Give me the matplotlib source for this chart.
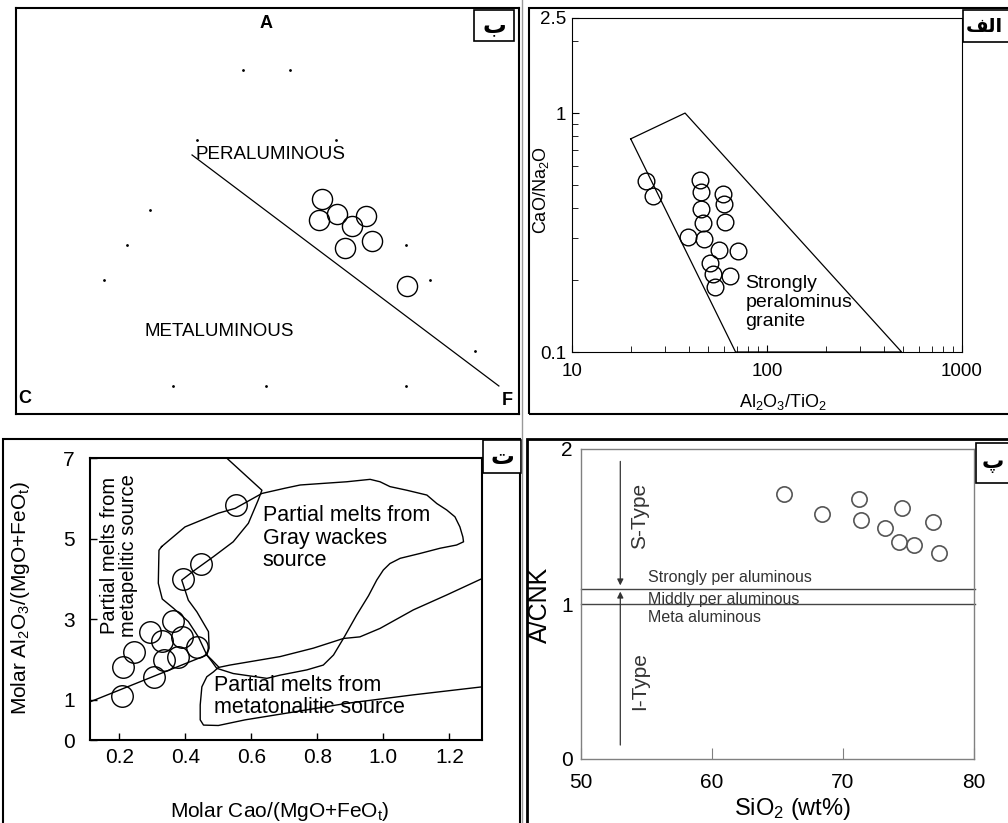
import matplotlib
matplotlib.use('agg')
import matplotlib.pyplot as plt
from matplotlib.patches import Rectangle
from matplotlib.lines import Line2D
from matplotlib.ticker import FixedLocator, FixedFormatter, NullFormatter

plt.rcParams['font.family'] = ['Liberation Sans', 'DejaVu Sans']
plt.rcParams['mathtext.fontset'] = 'custom'
plt.rcParams['mathtext.rm'] = 'Liberation Sans'
plt.rcParams['mathtext.it'] = 'Liberation Sans:italic'

W, H = 1008, 823

# --- panel ب : A-C-F diagram (diagram units 0-100) ---
acf_x = [60.8, 60.2, 63.8, 66.8, 69.6, 70.8, 65.4, 77.7]
acf_y = [53.0, 47.8, 49.3, 46.3, 48.8, 42.6, 40.9, 31.5]
acf_grid_x = [45.1, 54.5, 36.0, 63.6, 26.6, 22.1, 17.5, 77.5, 82.3, 91.3, 31.2, 49.7, 77.5]
acf_grid_y = [84.7, 84.7, 67.5, 67.5, 50.2, 41.6, 33.0, 41.6, 33.0, 15.5, 6.9, 6.9, 6.9]
acf_line_x = [35.0, 96.0]
acf_line_y = [63.8, 6.9]

# --- panel الف : CaO/Na2O vs Al2O3/TiO2 ---
spg_x = [24.0, 25.9, 45.5, 46.0, 46.0, 47.0, 39.4, 47.5, 59.3, 59.9, 61.0,
         56.5, 70.8, 50.8, 52.8, 64.9, 54.3]
spg_y = [0.519, 0.45, 0.527, 0.469, 0.396, 0.346, 0.303, 0.298, 0.46, 0.415,
         0.35, 0.267, 0.264, 0.235, 0.212, 0.208, 0.187]
spg_field_x = [20, 38, 490, 69, 20]
spg_field_y = [0.78, 1.0, 0.1, 0.1, 0.78]

# --- panel ت : molar Al2O3/(MgO+FeOt) vs CaO/(MgO+FeOt) ---
src_x = [0.554, 0.448, 0.392, 0.364, 0.293, 0.389, 0.328, 0.435, 0.245,
         0.377, 0.336, 0.212, 0.306, 0.207]
src_y = [5.83, 4.37, 4.00, 2.95, 2.69, 2.56, 2.46, 2.32, 2.19, 2.07, 1.99,
         1.80, 1.56, 1.10]
pelite_x = [0.525, 0.632, 0.621, 0.591, 0.545, 0.485, 0.429, 0.389, 0.409,
            0.435, 0.455, 0.470, 0.472, 0.465, 0.480, 0.500]
pelite_y = [7.0, 6.20, 5.96, 5.38, 4.92, 4.55, 4.22, 3.97, 3.47, 3.18, 2.90,
            2.69, 2.28, 2.11, 1.99, 1.82]
lower_x = [0.112, 0.465]
lower_y = [0.95, 2.11]
tonalite_x = [1.30, 1.09, 0.889, 0.702, 0.581, 0.50, 0.455, 0.445, 0.445,
              0.45, 0.465, 0.485, 0.50, 0.535, 0.687, 0.788, 0.879, 0.929,
              0.99, 1.091, 1.192, 1.30]
tonalite_y = [1.32, 1.12, 0.91, 0.66, 0.50, 0.36, 0.37, 0.50, 0.87, 1.32,
              1.57, 1.69, 1.80, 1.86, 2.07, 2.28, 2.52, 2.56, 2.77, 3.23,
              3.60, 4.01]
wacke_x = [0.328, 0.399, 0.50, 0.551, 0.632, 0.702, 0.748, 0.818, 0.889,
           0.96, 0.99, 1.02, 1.071, 1.132, 1.162, 1.192, 1.217, 1.232, 1.241,
           1.243, 1.222, 1.172, 1.111, 1.051, 1.02, 1.0, 0.98, 0.955, 0.919,
           0.879, 0.849, 0.818, 0.768, 0.687, 0.647, 0.545, 0.495, 0.48,
           0.465, 0.44, 0.409, 0.364, 0.33, 0.318, 0.320, 0.328]
wacke_y = [4.80, 5.29, 5.63, 5.75, 6.12, 6.25, 6.33, 6.37, 6.41, 6.47, 6.41,
           6.29, 6.20, 6.08, 5.87, 5.71, 5.54, 5.29, 5.04, 4.92, 4.84, 4.76,
           4.63, 4.51, 4.38, 4.22, 3.97, 3.58, 3.10, 2.52, 2.11, 1.86, 1.74,
           1.61, 1.53, 1.65, 1.78, 1.95, 2.11, 2.55, 2.94, 3.27, 3.50, 3.89,
           4.71, 4.80]

# --- panel پ : A/CNK vs SiO2 ---
sio2 = [65.5, 68.4, 71.2, 71.4, 73.2, 74.5, 74.3, 75.4, 76.9, 77.3]
acnk = [1.71, 1.58, 1.68, 1.54, 1.49, 1.62, 1.40, 1.38, 1.53, 1.33]
acnk_bounds = [1.0, 1.1]


def px_rect(x0, y0, x1, y1):
    return [x0 / W, 1 - y1 / H, (x1 - x0) / W, (y1 - y0) / H]


def frame_box(fig, x0, y0, x1, y1, lw=1.5, color='black'):
    fig.add_artist(Rectangle((x0 / W, 1 - y1 / H), (x1 - x0) / W, (y1 - y0) / H,
                             transform=fig.transFigure, fill=False,
                             lw=lw, edgecolor=color))


def tag(fig, x0, y0, x1, y1, text, tx, ha='center', size=17):
    fig.add_artist(Rectangle((x0 / W, 1 - y1 / H), (x1 - x0) / W, (y1 - y0) / H,
                             transform=fig.transFigure, facecolor='white',
                             lw=1.2, edgecolor='black'))
    fig.text(tx / W, 1 - (y0 + y1) / 2 / H, text, ha=ha, va='center',
             fontsize=size, fontweight='bold', family=['DejaVu Sans'])


fig = plt.figure(figsize=(W / 100, H / 100), dpi=100)

# ---------------- ب ----------------
ax = fig.add_axes(px_rect(16, 8, 519, 414))
ax.set_xlim(0, 100)
ax.set_ylim(0, 100)
ax.set_xticks([])
ax.set_yticks([])
for s in ax.spines.values():
    s.set_linewidth(1.5)
ax.plot(acf_grid_x, acf_grid_y, '.', color='black', ms=2)
ax.plot(acf_line_x, acf_line_y, color='black', lw=0.9)
ax.plot(acf_x, acf_y, 'o', mfc='none', mec='black', ms=14.5, mew=1)
ax.text(49.7, 96.3, 'A', ha='center', va='center', fontsize=13, fontweight='bold')
ax.text(1.8, 3.9, 'C', ha='center', va='center', fontsize=13, fontweight='bold')
ax.text(97.6, 3.4, 'F', ha='center', va='center', fontsize=13, fontweight='bold')
ax.text(35.6, 64.0, 'PERALUMINOUS', ha='left', va='center', fontsize=13.5)
ax.text(25.6, 20.2, 'METALUMINOUS', ha='left', va='center', fontsize=13.5)

# ---------------- الف ----------------
frame_box(fig, 529, 8, 1012, 414)
ax = fig.add_axes(px_rect(572, 18, 962, 352))
ax.set_xscale('log')
ax.set_yscale('log')
ax.set_xlim(10, 1000)
ax.set_ylim(0.1, 2.5)
ax.plot(spg_field_x, spg_field_y, color='black', lw=0.9)
ax.plot(spg_x, spg_y, 'o', mfc='none', mec='black', ms=12, mew=1)
ax.text(77.4, 0.161, 'Strongly\nperalominus\ngranite', ha='left', va='center',
        fontsize=14, linespacing=1.15)
ax.xaxis.set_major_locator(FixedLocator([10, 100, 1000]))
ax.xaxis.set_major_formatter(FixedFormatter(['10', '100', '1000']))
ax.xaxis.set_minor_locator(FixedLocator([20, 30, 40, 50, 60, 70, 80, 90,
                                         200, 300, 400, 500, 600, 700, 800, 900]))
ax.xaxis.set_minor_formatter(NullFormatter())
ax.yaxis.set_major_locator(FixedLocator([0.1, 1, 2.5]))
ax.yaxis.set_major_formatter(FixedFormatter(['0.1', '1', '2.5']))
ax.yaxis.set_minor_locator(FixedLocator([0.2, 0.3, 0.4, 0.5, 0.6, 0.7, 0.8, 0.9, 2]))
ax.yaxis.set_minor_formatter(NullFormatter())
ax.tick_params(which='both', direction='in', labelsize=13.5)
ax.tick_params(which='major', length=5)
ax.tick_params(which='minor', length=4)
ax.tick_params(axis='x', pad=8)
ax.tick_params(axis='y', pad=4)
ax.set_xlabel(r'Al$_{\rm 2}$O$_{\rm 3}$/TiO$_{\rm 2}$', fontsize=13)
ax.set_ylabel(r'CaO/Na$_{\rm 2}$O', fontsize=13)
ax.xaxis.set_label_coords(0.541, -0.12)
ax.yaxis.set_label_coords(-0.055, 0.485)

# ---------------- ت ----------------
frame_box(fig, 3, 439, 520, 830)
ax = fig.add_axes(px_rect(90, 458, 482, 740))
ax.set_xlim(0.111, 1.299)
ax.set_ylim(0, 7)
for s in ax.spines.values():
    s.set_linewidth(1.5)
ax.plot(pelite_x, pelite_y, color='black', lw=1)
ax.plot(lower_x, lower_y, color='black', lw=1)
ax.plot(tonalite_x, tonalite_y, color='black', lw=1)
ax.plot(wacke_x, wacke_y, color='black', lw=1)
ax.plot(src_x, src_y, 'o', mfc='none', mec='black', ms=15.5, mew=1)
ax.text(0.200, 2.56, 'Partial melts from\nmetapelitic source', rotation=90,
        ha='center', va='bottom', fontsize=14.5, linespacing=1.0, clip_on=False)
ax.text(0.635, 5.01, 'Partial melts from\nGray wackes\nsource', ha='left',
        va='center', fontsize=15.5, linespacing=1.1)
ax.text(0.486, 1.075, 'Partial melts from\nmetatonalitic source', ha='left',
        va='center', fontsize=15.5, linespacing=1.1)
ax.set_xticks([0.2, 0.4, 0.6, 0.8, 1.0, 1.2])
ax.set_xticklabels(['0.2', '0.4', '0.6', '0.8', '1.0', '1.2'])
ax.set_yticks([0, 1, 3, 5, 7])
ax.tick_params(direction='in', length=5, width=1, labelsize=15)
ax.tick_params(axis='x', pad=6)
ax.tick_params(axis='y', pad=11)
ax.set_xlabel(r'Molar Cao/(MgO+FeO$_{\rm t}$)', fontsize=15)
ax.set_ylabel(r'Molar Al$_{\rm 2}$O$_{\rm 3}$/(MgO+FeO$_{\rm t}$)', fontsize=15)
ax.xaxis.set_label_coords(0.485, -0.213)
ax.yaxis.set_label_coords(-0.148, 0.504)

# ---------------- پ ----------------
frame_box(fig, 527, 439, 1012, 830, lw=2)
ax = fig.add_axes(px_rect(581, 449, 974, 759))
ax.set_xlim(50, 80)
ax.set_ylim(0, 2)
for s in ax.spines.values():
    s.set_color('#808080')
    s.set_linewidth(1)
for b in acnk_bounds:
    ax.plot([50, 80.05], [b, b], color='#444444', lw=1, clip_on=False)
ax.plot(sio2, acnk, 'o', mfc='none', mec='#555555', ms=11, mew=1.2)
ax.annotate('', xy=(53, 1.12), xytext=(53, 1.92),
            arrowprops=dict(arrowstyle='-|>', color='#333333', lw=0.9,
                            mutation_scale=9, shrinkA=0, shrinkB=0))
ax.annotate('', xy=(53, 1.08), xytext=(53, 0.09),
            arrowprops=dict(arrowstyle='-|>', color='#333333', lw=0.9,
                            mutation_scale=9, shrinkA=0, shrinkB=0))
ax.text(54.5, 1.57, 'S-Type', rotation=90, ha='center', va='center',
        fontsize=15, color='#333333')
ax.text(54.5, 0.50, 'I-Type', rotation=90, ha='center', va='center',
        fontsize=15, color='#333333')
ax.text(55.1, 1.17, 'Strongly per aluminous', ha='left', va='center',
        fontsize=11.5, color='#333333')
ax.text(55.1, 1.03, 'Middly per aluminous', ha='left', va='center',
        fontsize=11.5, color='#333333')
ax.text(55.1, 0.91, 'Meta aluminous', ha='left', va='center',
        fontsize=11.5, color='#333333')
ax.set_xticks([50, 60, 70, 80])
ax.set_yticks([0, 1, 2])
ax.tick_params(axis='x', direction='in', length=8, color='#808080',
               labelsize=15, pad=10)
ax.tick_params(axis='y', length=0, labelsize=15, pad=6)
ax.set_xlabel(r'SiO$_{\rm 2}$ (wt%)', fontsize=17)
ax.set_ylabel('A/CNK', fontsize=18)
ax.xaxis.set_label_coords(0.539, -0.119)
ax.yaxis.set_label_coords(-0.074, 0.497)

# page separator
fig.add_artist(Line2D([522 / W, 522 / W], [0, 1], transform=fig.transFigure,
                      color='#999999', lw=1))

# panel tags
tag(fig, 474, 10, 514, 41, 'ب', 494)
tag(fig, 963, 10, 1012, 42, '\ufed2\ufedf\ufe8d', 966, ha='left', size=14)
tag(fig, 483, 440, 521, 473, 'ت', 502)
tag(fig, 976, 443, 1012, 483, 'پ', 993, size=16)

fig.savefig('out.png', dpi=100)
